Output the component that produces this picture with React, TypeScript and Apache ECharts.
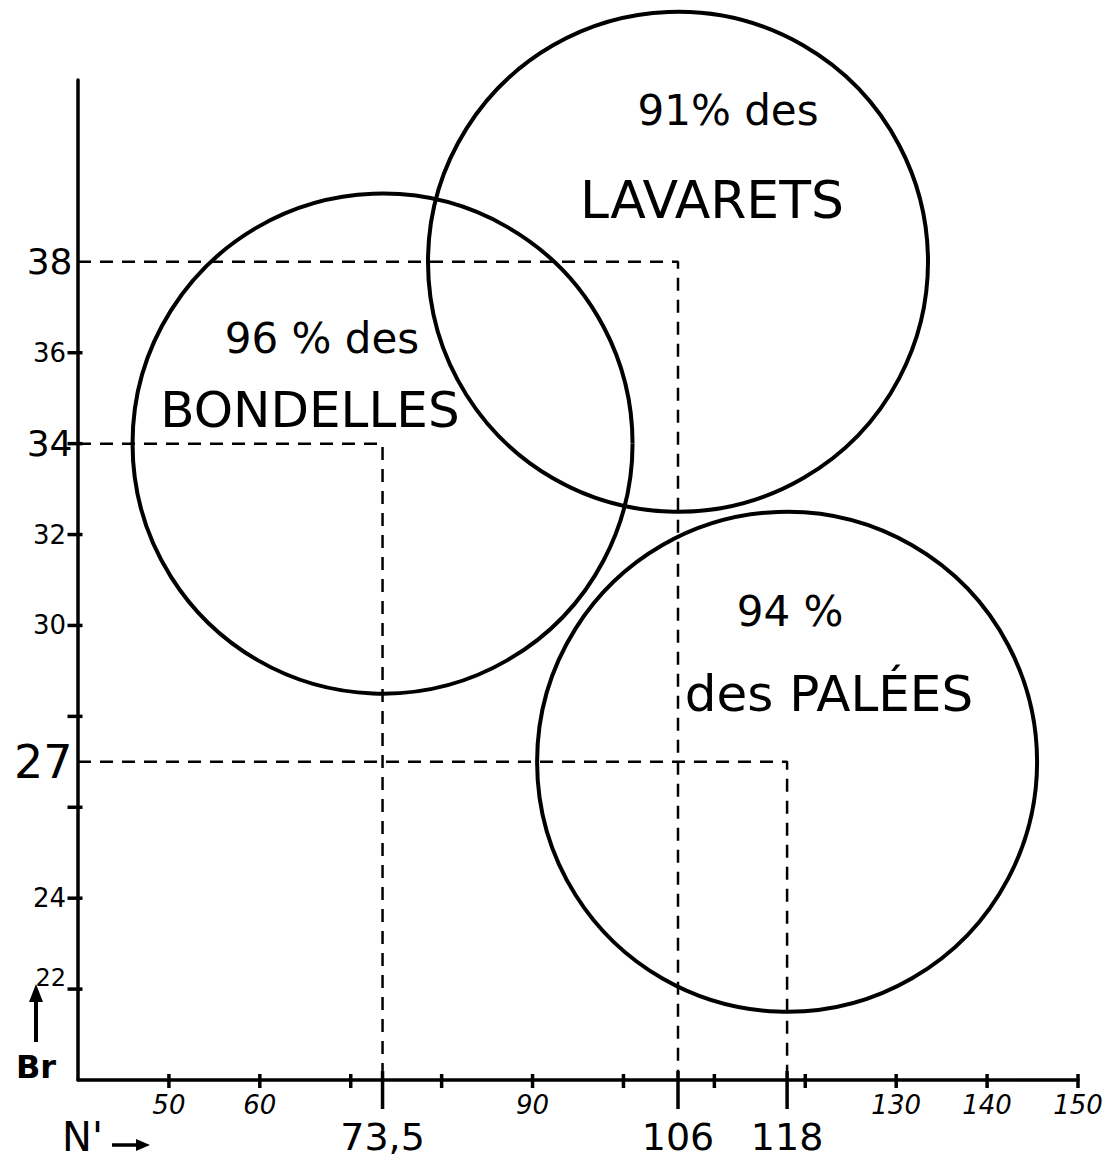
import React, { useEffect, useRef } from 'react';
import * as echarts from 'echarts';

// ---- Data ----
const species = ['BONDELLES', 'LAVARETS', 'PALÉES'];
const meanN = [73.5, 106, 118];
const meanBr = [34, 38, 27];
const meanNLabels = ['73,5', '106', '118'];
const meanBrLabels = ['34', '38', '27'];
const percentages = ['96 %', '91%', '94 %'];

const xTicks = [50, 60, 70, 80, 90, 100, 110, 120, 130, 140, 150];
const xTickLabels = [50, 60, 90, 130, 140, 150];
const yTicks = [22, 24, 26, 28, 30, 32, 34, 36];
const yTickLabels = [22, 24, 30, 32, 36];

const FONT = "'DejaVu Sans', 'Open Sans', sans-serif";
const INK = '#000';

export default function App() {
  const ref = useRef<HTMLDivElement>(null);

  useEffect(() => {
    document.body.style.margin = '0';
    const chart = echarts.init(ref.current!, null, { renderer: 'svg' });

    const dashedSeries = meanN.map((n, i) => ({
      type: 'line',
      name: species[i] + ' moyenne',
      data: [
        [40, meanBr[i]],
        [n, meanBr[i]],
        [n, 20],
      ],
      symbol: 'none',
      silent: true,
      lineStyle: { color: INK, width: 2.5, type: [13, 9], opacity: 1 },
      z: 2,
    }));

    const option: any = {
      animation: false,
      backgroundColor: '#fff',
      grid: { left: 78, right: 36, top: 80, bottom: 82 },
      xAxis: {
        type: 'value',
        min: 40,
        max: 150,
        interval: 10,
        splitLine: { show: false },
        axisTick: { show: false },
        axisLine: { lineStyle: { color: INK, width: 3.5 } },
        axisLabel: {
          margin: 12,
          color: INK,
          fontFamily: FONT,
          fontSize: 26,
          fontStyle: 'italic',
          formatter: (v: number) => (xTickLabels.includes(v) ? String(v) : ''),
        },
      },
      yAxis: {
        type: 'value',
        min: 20,
        max: 42,
        interval: 2,
        splitLine: { show: false },
        axisTick: { show: false },
        axisLine: { lineStyle: { color: INK, width: 3.5 } },
        axisLabel: {
          margin: 12,
          color: INK,
          fontFamily: FONT,
          fontSize: 26,
          formatter: (v: number) =>
            yTickLabels.includes(v) ? (v === 22 ? '{sup|' + v + '}' : String(v)) : '',
          rich: {
            sup: { fontSize: 24, fontFamily: FONT, color: INK, padding: [0, 0, 22, 0] },
          },
        },
      },
      series: [
        // regular x ticks
        {
          type: 'scatter',
          data: xTicks.map((v) => [v, 20]),
          symbol: 'rect',
          symbolSize: [3.5, 14],
          symbolOffset: [0, 1],
          itemStyle: { color: INK, opacity: 1 },
          silent: true,
          clip: false,
          z: 5,
        },
        // regular y ticks
        {
          type: 'scatter',
          data: yTicks.map((v) => [40, v]),
          symbol: 'rect',
          symbolSize: [15, 3.5],
          symbolOffset: [-3, 0],
          itemStyle: { color: INK, opacity: 1 },
          silent: true,
          clip: false,
          z: 5,
        },
        // mean N' ticks and labels
        {
          type: 'scatter',
          data: meanN.map((n, i) => ({ value: [n, 20], label: { formatter: meanNLabels[i] } })),
          symbol: 'rect',
          symbolSize: [3.5, 38],
          symbolOffset: [0, 10],
          itemStyle: { color: INK, opacity: 1 },
          silent: true,
          clip: false,
          z: 5,
          label: {
            show: true,
            position: 'bottom',
            distance: 9,
            color: INK,
            opacity: 1,
            fontFamily: FONT,
            fontSize: 38,
          },
        },
        // mean Br labels
        {
          type: 'scatter',
          data: meanBr.map((b, i) => ({
            value: [40, b],
            label: { formatter: meanBrLabels[i], fontSize: i === 2 ? 46 : 36 },
          })),
          symbol: 'circle',
          symbolSize: 1,
          itemStyle: { color: 'transparent', opacity: 1 },
          silent: true,
          clip: false,
          label: {
            show: true,
            position: 'left',
            distance: 5,
            color: INK,
            opacity: 1,
            fontFamily: FONT,
          },
        },
        ...dashedSeries,
        // circles
        {
          type: 'scatter',
          name: 'zones',
          data: meanN.map((n, i) => [n, meanBr[i]]),
          symbol: 'circle',
          symbolSize: 500,
          clip: false,
          silent: true,
          itemStyle: { color: 'none', borderColor: INK, borderWidth: 4, opacity: 1 },
          z: 3,
        },
      ],
      graphic: [
        { type: 'text', x: 728, y: 110, style: { text: percentages[1] + ' des', font: `42px ${FONT}`, fill: INK, textAlign: 'center', textVerticalAlign: 'middle' } },
        { type: 'text', x: 712, y: 200, style: { text: species[1], font: `52px ${FONT}`, fill: INK, textAlign: 'center', textVerticalAlign: 'middle' } },
        { type: 'text', x: 322, y: 338, style: { text: percentages[0] + ' des', font: `42px ${FONT}`, fill: INK, textAlign: 'center', textVerticalAlign: 'middle' } },
        { type: 'text', x: 310, y: 410, style: { text: species[0], font: `50px ${FONT}`, fill: INK, textAlign: 'center', textVerticalAlign: 'middle' } },
        { type: 'text', x: 790, y: 611, style: { text: percentages[2], font: `42px ${FONT}`, fill: INK, textAlign: 'center', textVerticalAlign: 'middle' } },
        { type: 'text', x: 829, y: 694, style: { text: 'des ' + species[2], font: `50px ${FONT}`, fill: INK, textAlign: 'center', textVerticalAlign: 'middle' } },
        // Br label and arrow
        { type: 'text', x: 36, y: 1067, style: { text: 'Br', font: `bold 32px ${FONT}`, fill: INK, textAlign: 'center', textVerticalAlign: 'middle' } },
        { type: 'line', shape: { x1: 36, y1: 1042, x2: 36, y2: 998 }, style: { stroke: INK, lineWidth: 4 } },
        { type: 'polygon', shape: { points: [[29, 1002], [36, 984], [43, 1002]] }, style: { fill: INK } },
        // N' label and arrow
        { type: 'text', x: 62, y: 1137, style: { text: "N'", font: `40px ${FONT}`, fill: INK, textAlign: 'left', textVerticalAlign: 'middle' } },
        { type: 'line', shape: { x1: 112, y1: 1145, x2: 140, y2: 1145 }, style: { stroke: INK, lineWidth: 3.5 } },
        { type: 'polygon', shape: { points: [[136, 1139], [150, 1145], [136, 1151]] }, style: { fill: INK } },
      ],
    };

    chart.setOption(option);
    return () => chart.dispose();
  }, []);

  return <div ref={ref} style={{ width: 1114, height: 1162 }} />;
}
